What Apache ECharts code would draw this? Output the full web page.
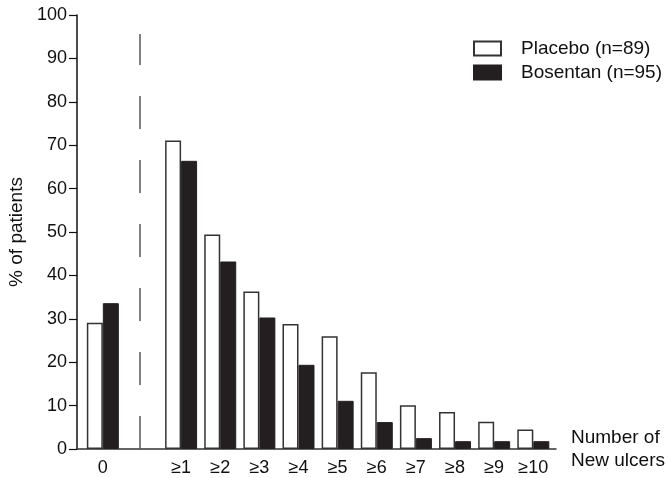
<!DOCTYPE html>
<html>
<head>
<meta charset="utf-8">
<script src="https://cdn.jsdelivr.net/npm/echarts@6/dist/echarts.min.js"></script>
<style>
  html, body { margin: 0; padding: 0; background: #ffffff; }
  #chart { width: 668px; height: 478px; }
</style>
</head>
<body>
<div id="chart"></div>
<script>
const categories = ['0', '', '\u22651', '\u22652', '\u22653', '\u22654', '\u22655', '\u22656', '\u22657', '\u22658', '\u22659', '\u226510'];
const placebo = [29.1, null, 71.1, 49.4, 36.3, 28.8, 26.0, 17.7, 10.1, 8.5, 6.3, 4.5];
const bosentan = [33.6, null, 66.4, 43.2, 30.3, 19.4, 11.1, 6.2, 2.5, 1.8, 1.8, 1.8];
const seriesNames = ['Placebo (n=89)', 'Bosentan (n=95)'];
const yTicks = [0, 10, 20, 30, 40, 50, 60, 70, 80, 90, 100];
const dividerIndex = 0.95;
const dividerTop = 95.6;

const FONT = '"Liberation Sans", Arial, Helvetica, sans-serif';
const INK = '#111011';

function toPoints(values) {
  const out = [];
  values.forEach((v, i) => { if (v !== null) out.push([i, v]); });
  return out;
}
const labelIdx = categories.map((c, i) => i).filter(i => categories[i] !== '');

const chart = echarts.init(document.getElementById('chart'), null, { renderer: 'canvas' });
chart.setOption({
  animation: false,
  backgroundColor: '#ffffff',
  textStyle: { fontFamily: FONT },
  grid: { left: 77, right: 112, top: 15, bottom: 29, containLabel: false, outerBoundsMode: 'none' },
  legend: {
    orient: 'vertical',
    left: 468,
    top: 34,
    itemWidth: 27,
    itemHeight: 14,
    itemGap: 5,
    icon: 'rect',
    selectedMode: false,
    textStyle: { fontFamily: FONT, fontSize: 19, color: INK, padding: [0, 0, 0, 15] },
    data: seriesNames
  },
  xAxis: {
    type: 'value',
    min: -0.66,
    max: 11.58,
    name: 'Number of\nNew ulcers',
    nameLocation: 'end',
    nameGap: 15,
    nameTextStyle: { fontFamily: FONT, fontSize: 19, color: INK, align: 'left', lineHeight: 23 },
    axisLine: { show: true, onZero: false, lineStyle: { color: '#333', width: 1.5 } },
    axisTick: { show: false },
    splitLine: { show: false },
    axisLabel: {
      customValues: labelIdx,
      formatter: v => categories[Math.round(v)],
      fontFamily: FONT, fontSize: 18, color: INK, margin: 10
    }
  },
  yAxis: {
    type: 'value',
    min: 0,
    max: 100,
    interval: 10,
    name: '% of patients',
    nameLocation: 'middle',
    nameGap: 49,
    nameTextStyle: { fontFamily: FONT, fontSize: 19, color: INK },
    axisLine: { show: true, onZero: false, lineStyle: { color: INK, width: 1.5 } },
    axisTick: { show: true, inside: false, length: 8, lineStyle: { color: INK, width: 1.2 } },
    splitLine: { show: false },
    axisLabel: {
      customValues: yTicks,
      fontFamily: FONT, fontSize: 18, color: INK, margin: 10
    }
  },
  series: [
    {
      name: seriesNames[0],
      type: 'bar',
      barWidth: 16,
      barGap: '0%',
      data: toPoints(placebo),
      itemStyle: { color: '#ffffff', borderColor: '#333', borderWidth: 1.5 }
    },
    {
      name: seriesNames[1],
      type: 'bar',
      barWidth: 16,
      barGap: '0%',
      data: toPoints(bosentan),
      itemStyle: { color: '#231f20', borderColor: '#231f20', borderWidth: 1 }
    },
    {
      name: 'divider',
      type: 'line',
      data: [],
      silent: true,
      markLine: {
        silent: true,
        symbol: ['none', 'none'],
        label: { show: false },
        lineStyle: { color: '#555', width: 1.5, type: [33, 31] },
        data: [[{ coord: [dividerIndex, 0] }, { coord: [dividerIndex, dividerTop] }]]
      }
    }
  ]
});
</script>
</body>
</html>
